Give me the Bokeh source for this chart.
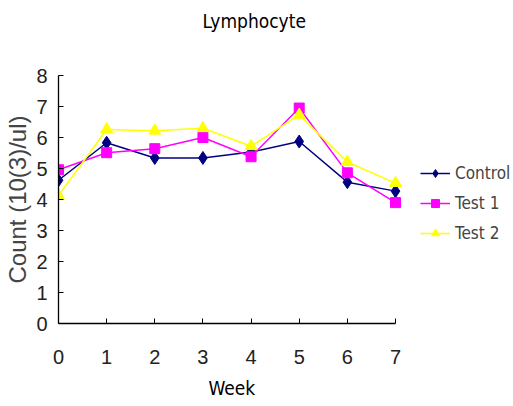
from bokeh.plotting import figure
from bokeh.models import Legend, LegendItem, Range1d, FixedTicker, Title
from bokeh.embed import file_html
from bokeh.resources import INLINE

weeks = [0, 1, 2, 3, 4, 5, 6, 7]
control = [4.62, 5.83, 5.34, 5.34, 5.53, 5.87, 4.56, 4.27]
test1 = [4.96, 5.51, 5.64, 6.00, 5.38, 6.95, 4.86, 3.90]
test2 = [4.13, 6.26, 6.22, 6.30, 5.72, 6.73, 5.21, 4.53]
y_ticks = [0, 1, 2, 3, 4, 5, 6, 7, 8]

FONT = "Liberation Sans"
NARROW = "DejaVu Sans Condensed, Liberation Sans"

# frame spans the full right side; the x axis line is bounded to weeks 0..7
x_end = 7 * 455 / 337
p = figure(width=513, height=406, output_backend="svg", toolbar_location=None,
           x_range=Range1d(0, x_end), y_range=Range1d(0, 8),
           min_border_left=58, min_border_right=0, min_border_top=75, min_border_bottom=83)
p.outline_line_color = None
p.grid.visible = False
p.background_fill_color = "white"
p.border_fill_color = "white"

p.title.text = "Lymphocyte\n \n "
p.title.align = "left"
p.title.offset = 144
p.title.standoff = 0
p.title.text_font = NARROW
p.title.text_font_size = "19px"
p.title.text_font_style = "normal"
p.title.text_color = "black"

for ax in (p.xaxis[0], p.yaxis[0]):
    ax.axis_line_color = "black"
    ax.axis_line_width = 1.3
    ax.major_tick_in = 5
    ax.major_tick_out = 0
    ax.minor_tick_line_color = None
    ax.major_tick_line_color = "black"
    ax.major_label_text_font = FONT
    ax.major_label_text_font_size = "20px"
    ax.major_label_text_color = "#222222"

p.xaxis.bounds = (0, 7)
p.xaxis.ticker = FixedTicker(ticks=weeks)
p.yaxis.ticker = FixedTicker(ticks=y_ticks)
p.xaxis.major_label_standoff = 26
p.yaxis.major_label_standoff = 11
p.yaxis.axis_label = "Count (10(3)/ul)"
p.yaxis.axis_label_text_font = FONT
p.yaxis.axis_label_text_font_size = "24px"
p.yaxis.axis_label_text_font_style = "normal"
p.yaxis.axis_label_standoff = 2

week_title = Title(text="Week", align="left", offset=150, standoff=16,
                   text_font=NARROW, text_font_size="19px", text_font_style="normal",
                   text_color="black")
p.add_layout(week_title, "below")

l1 = p.line(weeks, control, line_color="#000080", line_width=1.5)
m1 = p.scatter(weeks, control, marker="diamond", size=13, fill_color="#000080", line_color="#000080")
l2 = p.line(weeks, test1, line_color="#FF00FF", line_width=1.5)
m2 = p.scatter(weeks, test1, marker="square", size=10, fill_color="#FF00FF", line_color="#FF00FF")
l3 = p.line(weeks, test2, line_color="#FFFF00", line_width=1.5)
m3 = p.scatter(weeks, test2, marker="triangle", size=12, fill_color="#FFFF00", line_color="#FFFF00")

legend = Legend(items=[LegendItem(label="Control", renderers=[l1, m1]),
                       LegendItem(label="Test 1", renderers=[l2, m2]),
                       LegendItem(label="Test 2", renderers=[l3, m3])],
                location=(362, 80))
legend.border_line_color = None
legend.background_fill_alpha = 0
legend.label_text_font = NARROW
legend.label_text_font_size = "17px"
legend.glyph_width = 30
legend.glyph_height = 20
legend.spacing = 10
legend.label_standoff = 5
legend.padding = 0
legend.margin = 0
p.add_layout(legend, "center")

open("out.html", "w").write(file_html(p, INLINE))
